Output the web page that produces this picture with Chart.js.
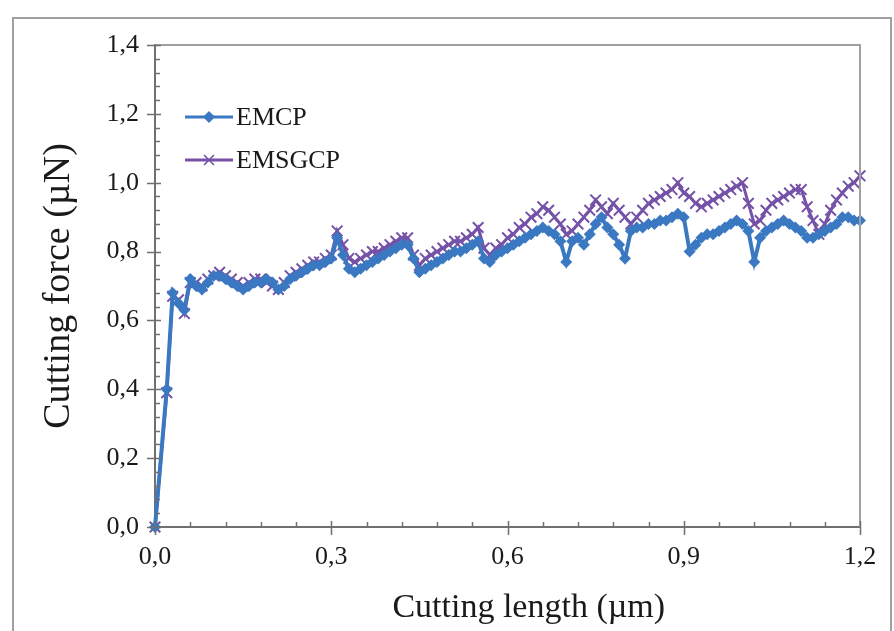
<!DOCTYPE html>
<html>
<head>
<meta charset="utf-8">
<script src="https://cdn.jsdelivr.net/npm/chart.js@4.4.0/dist/chart.umd.min.js"></script>
<style>
html, body { margin: 0; padding: 0; background: #fff; }
#wrap { position: relative; width: 894px; height: 631px; overflow: hidden; }
#frame { position: absolute; left: 12px; top: 17px; width: 880px; height: 640px; border: 2px solid #a0a0a0; box-sizing: border-box; pointer-events: none; }
#chart { position: absolute; left: 0; top: 0; }
</style>
</head>
<body>
<div id="wrap">
  <canvas id="chart" width="894" height="631"></canvas>
  <div id="frame"></div>
</div>
<script>
// cutting length (um)
var cuttingLength = [0, 0.02, 0.03, 0.04, 0.05, 0.06, 0.07, 0.08, 0.09, 0.10,
    0.11, 0.12, 0.13, 0.14, 0.15, 0.16, 0.17, 0.18, 0.19, 0.20,
    0.21, 0.22, 0.23, 0.24, 0.25, 0.26, 0.27, 0.28, 0.29, 0.30,
    0.31, 0.32, 0.33, 0.34, 0.35, 0.36, 0.37, 0.38, 0.39, 0.40,
    0.41, 0.42, 0.43, 0.44, 0.45, 0.46, 0.47, 0.48, 0.49, 0.50,
    0.51, 0.52, 0.53, 0.54, 0.55, 0.56, 0.57, 0.58, 0.59, 0.60,
    0.61, 0.62, 0.63, 0.64, 0.65, 0.66, 0.67, 0.68, 0.69, 0.70,
    0.71, 0.72, 0.73, 0.74, 0.75, 0.76, 0.77, 0.78, 0.79, 0.80,
    0.81, 0.82, 0.83, 0.84, 0.85, 0.86, 0.87, 0.88, 0.89, 0.90,
    0.91, 0.92, 0.93, 0.94, 0.95, 0.96, 0.97, 0.98, 0.99, 1.00,
    1.01, 1.02, 1.03, 1.04, 1.05, 1.06, 1.07, 1.08, 1.09, 1.10,
    1.11, 1.12, 1.13, 1.14, 1.15, 1.16, 1.17, 1.18, 1.19, 1.20];

// cutting force (uN)
var forceEMCP = [0, 0.40, 0.68, 0.65, 0.63, 0.72, 0.70, 0.69, 0.71, 0.73,
    0.73, 0.72, 0.71, 0.70, 0.69, 0.70, 0.71, 0.71, 0.72, 0.71,
    0.69, 0.70, 0.72, 0.73, 0.74, 0.75, 0.76, 0.76, 0.77, 0.78,
    0.84, 0.79, 0.75, 0.74, 0.75, 0.76, 0.77, 0.78, 0.79, 0.80,
    0.81, 0.82, 0.82, 0.78, 0.74, 0.75, 0.76, 0.77, 0.78, 0.79,
    0.80, 0.80, 0.81, 0.82, 0.83, 0.78, 0.77, 0.79, 0.80, 0.81,
    0.82, 0.83, 0.84, 0.85, 0.86, 0.87, 0.86, 0.85, 0.83, 0.77,
    0.83, 0.84, 0.82, 0.85, 0.88, 0.90, 0.87, 0.85, 0.82, 0.78,
    0.86, 0.87, 0.87, 0.88, 0.88, 0.89, 0.89, 0.90, 0.91, 0.90,
    0.80, 0.82, 0.84, 0.85, 0.85, 0.86, 0.87, 0.88, 0.89, 0.88,
    0.86, 0.77, 0.84, 0.86, 0.87, 0.88, 0.89, 0.88, 0.87, 0.86,
    0.84, 0.84, 0.85, 0.86, 0.87, 0.88, 0.90, 0.90, 0.89, 0.89];

var forceEMSGCP = [0, 0.39, 0.67, 0.66, 0.62, 0.71, 0.71, 0.70, 0.72, 0.73,
    0.74, 0.73, 0.72, 0.71, 0.70, 0.71, 0.72, 0.72, 0.71, 0.70,
    0.69, 0.71, 0.73, 0.74, 0.75, 0.76, 0.77, 0.77, 0.78, 0.79,
    0.86, 0.82, 0.78, 0.77, 0.78, 0.79, 0.80, 0.80, 0.81, 0.82,
    0.83, 0.84, 0.84, 0.79, 0.76, 0.78, 0.79, 0.80, 0.81, 0.82,
    0.83, 0.83, 0.84, 0.85, 0.87, 0.81, 0.79, 0.81, 0.82, 0.84,
    0.85, 0.87, 0.88, 0.90, 0.91, 0.93, 0.92, 0.90, 0.88, 0.85,
    0.86, 0.88, 0.90, 0.92, 0.95, 0.93, 0.91, 0.94, 0.92, 0.90,
    0.88, 0.90, 0.92, 0.94, 0.95, 0.96, 0.97, 0.98, 1.00, 0.97,
    0.96, 0.94, 0.93, 0.94, 0.95, 0.96, 0.97, 0.98, 0.99, 1.00,
    0.94, 0.88, 0.89, 0.92, 0.94, 0.95, 0.96, 0.97, 0.98, 0.98,
    0.93, 0.89, 0.85, 0.88, 0.92, 0.95, 0.97, 0.99, 1.00, 1.02];

var seriesNames = ['EMCP', 'EMSGCP'];
var seriesColors = ['#3a78c2', '#7552a8'];

var yMin = 0, yMax = 1.4, yStep = 0.2, yMinorStep = 0.04;
var xMin = 0, xMax = 1.2, xStep = 0.3, xMinorStep = 0.06;

var serif = "'Liberation Serif', 'DejaVu Serif', serif";

function commaLabel(v) {
    return Number(v).toFixed(1).replace('.', ',');
}

function toPoints(xs, ys) {
    var out = [];
    for (var i = 0; i < xs.length; i++) out.push({ x: xs[i], y: ys[i] });
    return out;
}

// little legend icons: line with the marker in the middle
function legendIcon(color, kind) {
    var c = document.createElement('canvas');
    c.width = 48; c.height = 18;
    var g = c.getContext('2d');
    g.strokeStyle = color;
    g.fillStyle = color;
    g.lineWidth = 3;
    g.beginPath(); g.moveTo(0, 9); g.lineTo(48, 9); g.stroke();
    if (kind === 'diamond') {
        g.beginPath();
        g.moveTo(24, 3); g.lineTo(30, 9); g.lineTo(24, 15); g.lineTo(18, 9);
        g.closePath(); g.fill();
    } else {
        g.lineWidth = 1.6;
        g.beginPath();
        g.moveTo(19, 4); g.lineTo(29, 14);
        g.moveTo(29, 4); g.lineTo(19, 14);
        g.stroke();
    }
    return c;
}
var legendIcons = [legendIcon(seriesColors[0], 'diamond'), legendIcon(seriesColors[1], 'cross')];

// legend inside the plot, top left
var innerLegend = {
    id: 'innerLegend',
    afterDraw: function (chart) {
        var ctx = chart.ctx;
        var a = chart.chartArea;
        ctx.save();
        ctx.font = '26px ' + serif;
        ctx.fillStyle = '#1a1a1a';
        ctx.textBaseline = 'middle';
        for (var i = 0; i < seriesNames.length; i++) {
            var cy = a.top + 72 + i * 43;
            ctx.drawImage(legendIcons[i], a.left + 30, cy - 9);
            ctx.fillText(seriesNames[i], a.left + 81, cy + 1);
        }
        ctx.restore();
    }
};

// frame of the plot + minor ticks
var axisDecor = {
    id: 'axisDecor',
    afterDraw: function (chart) {
        var ctx = chart.ctx;
        var a = chart.chartArea;
        var xs = chart.scales.x, ys = chart.scales.y;
        ctx.save();
        ctx.strokeStyle = '#a0a0a0';
        ctx.lineWidth = 2;
        ctx.beginPath();
        ctx.moveTo(a.left, a.top);
        ctx.lineTo(a.right, a.top);
        ctx.lineTo(a.right, a.bottom);
        ctx.stroke();

        ctx.strokeStyle = '#707070';
        ctx.lineWidth = 1.5;
        ctx.beginPath();
        var n = Math.round((xMax - xMin) / xMinorStep);
        for (var i = 0; i <= n; i++) {
            var px = Math.round(xs.getPixelForValue(xMin + i * xMinorStep)) + 0.5;
            if (i % 5 === 0) {
                ctx.moveTo(px, a.bottom - 6); ctx.lineTo(px, a.bottom + 8);
            } else {
                ctx.moveTo(px, a.bottom - 5); ctx.lineTo(px, a.bottom);
            }
        }
        var m = Math.round((yMax - yMin) / yMinorStep);
        for (var j = 0; j <= m; j++) {
            var py = Math.round(ys.getPixelForValue(yMin + j * yMinorStep)) + 0.5;
            if (j % 5 === 0) {
                ctx.moveTo(a.left - 8, py); ctx.lineTo(a.left + 6, py);
            } else {
                ctx.moveTo(a.left, py); ctx.lineTo(a.left + 5, py);
            }
        }
        ctx.stroke();
        ctx.restore();
    }
};

new Chart(document.getElementById('chart').getContext('2d'), {
    type: 'line',
    data: {
        datasets: [{
            label: seriesNames[0],
            data: toPoints(cuttingLength, forceEMCP),
            borderColor: seriesColors[0],
            backgroundColor: seriesColors[0],
            borderWidth: 4,
            pointStyle: 'rectRot',
            pointRadius: 6,
            pointBorderWidth: 0,
            tension: 0,
            clip: 12
        }, {
            label: seriesNames[1],
            data: toPoints(cuttingLength, forceEMSGCP),
            borderColor: seriesColors[1],
            backgroundColor: seriesColors[1],
            borderWidth: 3,
            pointStyle: 'crossRot',
            pointRadius: 7.5,
            pointBorderWidth: 2,
            tension: 0,
            clip: 12
        }]
    },
    options: {
        responsive: false,
        animation: false,
        devicePixelRatio: 1,
        layout: { padding: { left: 0, right: 34, top: 45, bottom: 0 } },
        plugins: {
            tooltip: { enabled: false },
            legend: { display: false }
        },
        scales: {
            x: {
                type: 'linear',
                min: xMin,
                max: xMax,
                afterFit: function (scale) { scale.height = 104; },
                grid: { display: false, drawTicks: false },
                border: { display: true, color: '#707070', width: 2 },
                ticks: {
                    stepSize: xStep,
                    padding: 15,
                    color: '#1a1a1a',
                    font: { family: serif, size: 26 },
                    callback: commaLabel
                },
                title: {
                    display: true,
                    text: '     Cutting length (µm)',
                    color: '#1a1a1a',
                    font: { family: serif, size: 34 },
                    padding: { top: 4, bottom: 3 }
                }
            },
            y: {
                type: 'linear',
                min: yMin,
                max: yMax,
                afterFit: function (scale) { scale.width = 155; },
                grid: { display: false, drawTicks: false },
                border: { display: true, color: '#707070', width: 2 },
                ticks: {
                    stepSize: yStep,
                    padding: 16,
                    color: '#1a1a1a',
                    font: { family: serif, size: 26 },
                    callback: commaLabel
                },
                title: {
                    display: true,
                    text: 'Cutting force (µN)',
                    color: '#1a1a1a',
                    font: { family: serif, size: 38 },
                    padding: { top: 36, bottom: 4 }
                }
            }
        }
    },
    plugins: [axisDecor, innerLegend]
});
</script>
</body>
</html>
